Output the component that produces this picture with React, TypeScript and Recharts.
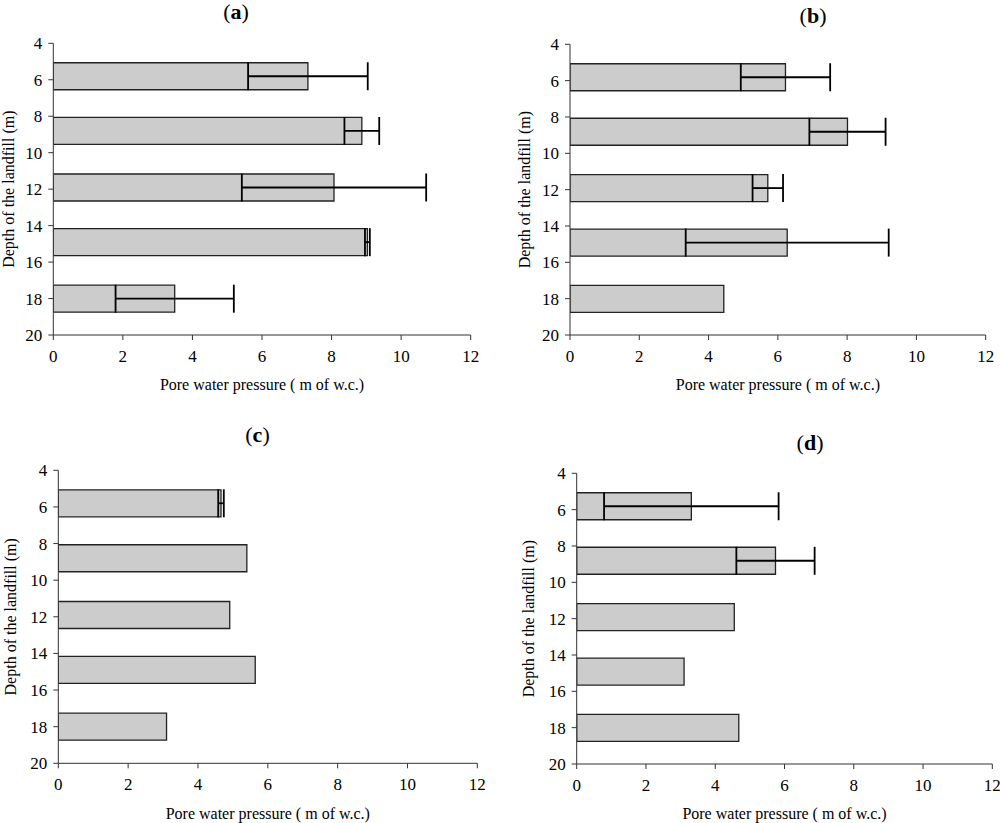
import { ComposedChart, Bar, ErrorBar, XAxis, YAxis, Label } from "recharts";

// depth of each bar (m), same in every panel
const depths = [5.8, 8.8, 11.9, 14.9, 18.0];

// pore water pressure (m of w.c.) and +/- error per panel
const pressureA = [7.32, 8.87, 8.07, 9.03, 3.49];
const errorA = [1.72, 0.5, 2.65, 0.07, 1.7];
const pressureB = [6.22, 8.01, 5.71, 6.27, 4.44];
const errorB = [1.29, 1.1, 0.44, 2.93, 0];
const pressureC = [4.66, 5.4, 4.91, 5.64, 3.1];
const errorC = [0.08, 0, 0, 0, 0];
const pressureD = [3.31, 5.74, 4.55, 3.1, 4.68];
const errorD = [2.52, 1.13, 0, 0, 0];

const xTicks = [0, 2, 4, 6, 8, 10, 12];
const yTicks = [4, 6, 8, 10, 12, 14, 16, 18, 20];
const xTitle = "Pore water pressure ( m of w.c.)";
const yTitle = "Depth of the landfill (m)";

const FONT = '"Liberation Serif", "Times New Roman", serif';
const tickStyle = { fontSize: 17, fill: "#000" };

interface Box {
  x: number;
  y: number;
  w: number;
  h: number;
}
interface Plot {
  l: number;
  r: number;
  t: number;
  b: number;
}

function Panel({
  pressure,
  error,
  box,
  plot,
  yGap,
  xGap = 55,
}: {
  pressure: number[];
  error: number[];
  box: Box;
  plot: Plot;
  yGap: number;
  xGap?: number;
}) {
  const data = depths.map((depth, i) => ({
    depth,
    pressure: pressure[i],
    err: error[i] ? error[i] : null,
  }));

  const margin = {
    top: plot.t - box.y,
    right: box.x + box.w - plot.r,
    bottom: box.y + box.h - plot.b - xGap,
    left: plot.l - box.x - yGap,
  };

  return (
    <div style={{ position: "absolute", left: box.x, top: box.y }}>
      <ComposedChart
        width={box.w}
        height={box.h}
        layout="vertical"
        data={data}
        margin={margin}
      >
        <XAxis
          type="number"
          domain={[0, 12]}
          ticks={xTicks}
          interval={0}
          allowDataOverflow
          height={xGap}
          axisLine={{ stroke: "#333" }}
          tickLine={{ stroke: "#333" }}
          tickSize={5}
          tickMargin={10}
          tick={tickStyle}
        >
          <Label
            value={xTitle}
            position="insideBottom"
            offset={0}
            fontSize={16}
            fill="#000"
          />
        </XAxis>
        <YAxis
          type="number"
          dataKey="depth"
          domain={[4, 20]}
          ticks={yTicks}
          interval={0}
          allowDataOverflow
          width={yGap}
          axisLine={{ stroke: "#333" }}
          tickLine={{ stroke: "#333" }}
          tickSize={5}
          tickMargin={6}
          tick={tickStyle}
        >
          <Label
            value={yTitle}
            angle={-90}
            position="insideLeft"
            offset={0}
            fontSize={16}
            fill="#000"
            style={{ textAnchor: "middle" }}
          />
        </YAxis>
        <XAxis
          xAxisId="top"
          orientation="top"
          type="number"
          domain={[0, 12]}
          height={0}
          tick={false}
          tickLine={false}
          axisLine={{ stroke: "#666" }}
        />
        <YAxis
          yAxisId="right"
          orientation="right"
          type="number"
          domain={[4, 20]}
          width={0}
          tick={false}
          tickLine={false}
          axisLine={{ stroke: "#666" }}
        />
        <Bar
          dataKey="pressure"
          barSize={27}
          fill="#cccccc"
          stroke="#222"
          strokeWidth={1.3}
          isAnimationActive={false}
        >
          <ErrorBar
            dataKey="err"
            direction="x"
            width={14}
            stroke="#000"
            strokeWidth={1.8}
          />
        </Bar>
      </ComposedChart>
    </div>
  );
}

const titles = [
  { letter: "a", x: 236, y: 18.5 },
  { letter: "b", x: 813, y: 22.5 },
  { letter: "c", x: 257.5, y: 441.7 },
  { letter: "d", x: 810, y: 450 },
];

export default function App() {
  return (
    <div
      style={{
        position: "absolute",
        left: 0,
        top: 0,
        width: 1000,
        height: 823,
        background: "#fff",
        fontFamily: FONT,
      }}
    >
      <style>{`.recharts-wrapper text { font-family: ${FONT} !important; }`}</style>
      <Panel
        pressure={pressureA}
        error={errorA}
        box={{ x: 0, y: 0, w: 500, h: 410 }}
        plot={{ l: 53.3, r: 470.7, t: 43.3, b: 335 }}
        yGap={45}
      />
      <Panel
        pressure={pressureB}
        error={errorB}
        box={{ x: 500, y: 0, w: 500, h: 410 }}
        plot={{ l: 570, r: 985.7, t: 44.3, b: 335 }}
        yGap={46}
      />
      <Panel
        pressure={pressureC}
        error={errorC}
        box={{ x: 0, y: 410, w: 500, h: 413 }}
        plot={{ l: 58.3, r: 477.3, t: 470.3, b: 763.3 }}
        yGap={48}
        xGap={56}
      />
      <Panel
        pressure={pressureD}
        error={errorD}
        box={{ x: 500, y: 410, w: 500, h: 413 }}
        plot={{ l: 576.7, r: 992.3, t: 473.3, b: 764 }}
        yGap={48}
      />
      <svg
        width={1000}
        height={823}
        style={{ position: "absolute", left: 0, top: 0, pointerEvents: "none" }}
      >
        {titles.map((t) => (
          <text
            key={t.letter}
            x={t.x}
            y={t.y}
            textAnchor="middle"
            fontSize={22}
            fontFamily={FONT}
            fill="#000"
          >
            (<tspan fontWeight="bold">{t.letter}</tspan>)
          </text>
        ))}
      </svg>
    </div>
  );
}
